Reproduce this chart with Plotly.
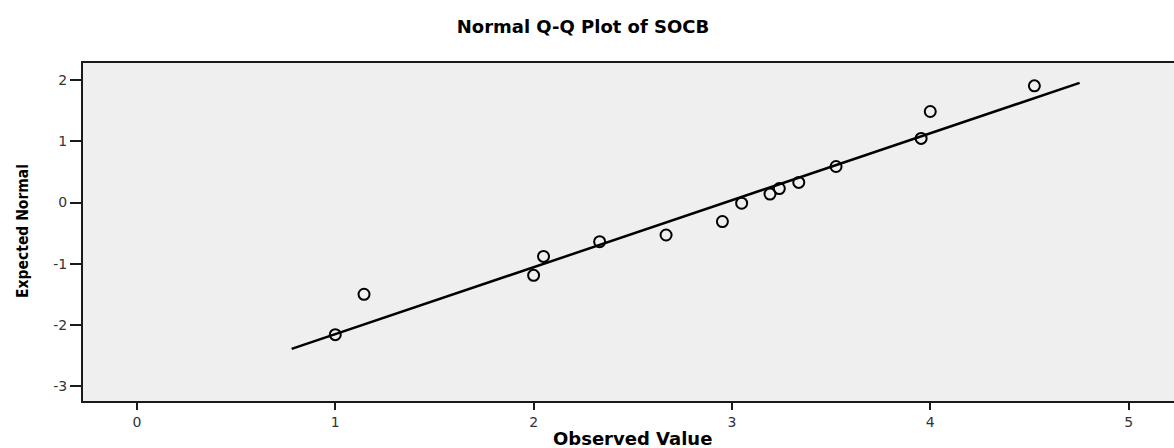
import plotly.graph_objects as go

# Data
observed = [1.00, 1.145, 2.00, 2.05, 2.333, 2.668, 2.952, 3.049, 3.192, 3.239,
            3.337, 3.525, 3.954, 4.00, 4.525]
expected = [-2.16, -1.50, -1.19, -0.88, -0.64, -0.53, -0.31, -0.01, 0.14, 0.23,
            0.33, 0.59, 1.05, 1.49, 1.91]
line_x = [0.78, 4.753]
line_mean = 2.965
line_sd = 0.913
line_y = [(v - line_mean) / line_sd for v in line_x]

x_ticks = [0, 1, 2, 3, 4, 5]
y_ticks = [-3, -2, -1, 0, 1, 2]
y_tick_text = ["-3", "-2", "-1", "0", "1", "2"]

W, H = 1174, 448
L, R, T, B = 83, 0, 63, 47

fig = go.Figure()
fig.add_trace(go.Scatter(x=line_x, y=line_y, mode="lines",
                         line=dict(color="black", width=2.5), showlegend=False,
                         hoverinfo="skip"))
fig.add_trace(go.Scatter(x=observed, y=expected, mode="markers",
                         marker=dict(symbol="circle-open", size=11, color="black",
                                     line=dict(color="black", width=2)),
                         showlegend=False))

fig.update_layout(
    width=W, height=H,
    margin=dict(l=L, r=R, t=T, b=B, autoexpand=False),
    paper_bgcolor="white",
    plot_bgcolor="#efefef",
    title=dict(text="<b>Normal Q-Q Plot of SOCB</b>", x=583 / W, xanchor="center",
               y=1 - 27 / H, yanchor="middle", yref="container",
               font=dict(family="DejaVu Sans", size=18, color="black")),
    xaxis=dict(range=[-0.272, 5.229], tickvals=x_ticks, showgrid=False, zeroline=False,
               showline=True, linecolor="#1a1a1a", linewidth=2, mirror=True,
               ticks="outside", ticklen=7, tickwidth=2, tickcolor="#1a1a1a",
               tickfont=dict(family="DejaVu Sans", size=14, color="#333"),
               automargin=False),
    yaxis=dict(range=[-3.245, 2.283], tickvals=y_ticks, ticktext=y_tick_text,
               showgrid=False, zeroline=False,
               showline=True, linecolor="#1a1a1a", linewidth=2,
               ticks="outside", ticklen=11, tickwidth=2, tickcolor="#1a1a1a",
               tickfont=dict(family="DejaVu Sans", size=14, color="#333"),
               automargin=False),
    annotations=[
        dict(text="<b>Observed Value</b>", xref="paper", yref="paper",
             x=(632 - L) / (W - L - R), y=-(439 - (H - B)) / (H - T - B),
             xanchor="center", yanchor="middle", showarrow=False,
             font=dict(family="DejaVu Sans", size=18, color="black")),
        dict(text="<b>Expected Normal</b>", xref="paper", yref="paper",
             x=-(L - 23) / (W - L - R), y=(H - B - 231) / (H - T - B),
             xanchor="center", yanchor="middle", showarrow=False, textangle=-90,
             font=dict(family="DejaVu Sans Condensed, sans-serif",
                       size=15.5, color="black")),
    ],
)

fig.write_html("out.html", config={"displayModeBar": False},
               post_script="document.body.style.margin='0';document.body.style.overflow='hidden';")
